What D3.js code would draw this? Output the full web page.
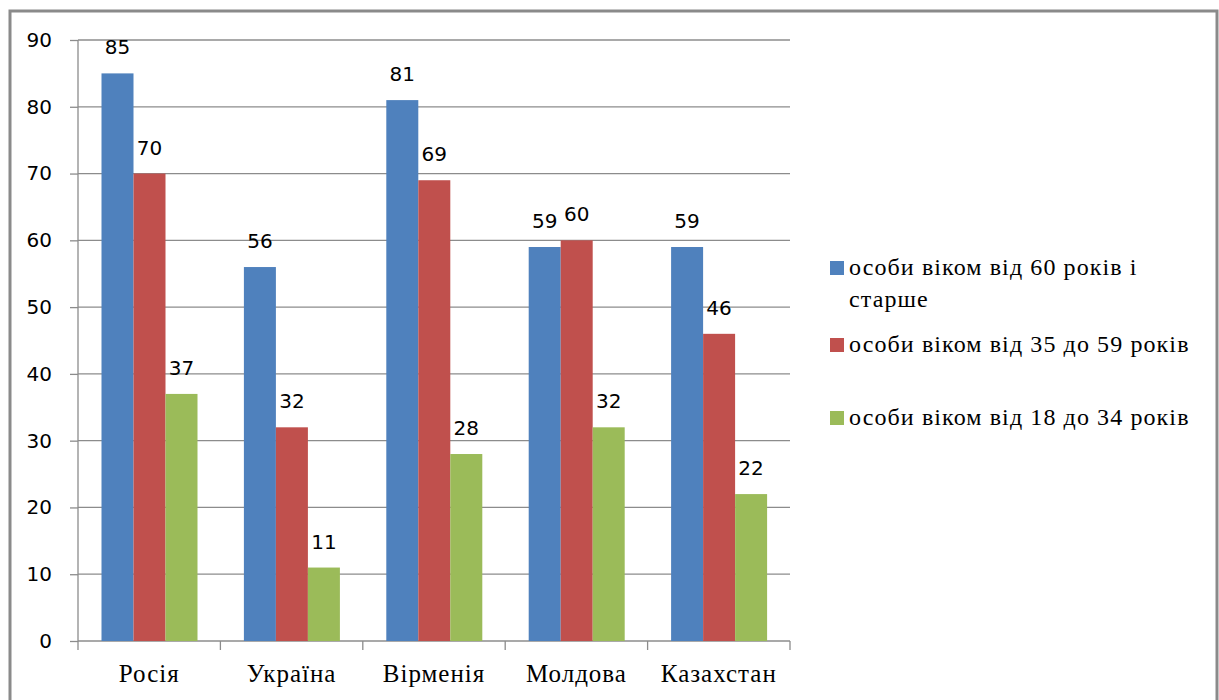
<!DOCTYPE html>
<html>
<head>
<meta charset="utf-8">
<script src="https://cdn.jsdelivr.net/npm/d3@7"></script>
<style>
  body { margin: 0; background: #fff; }
  svg { display: block; }
</style>
</head>
<body>
<svg id="chart" width="1219" height="700"></svg>
<script>
const categories = ["Росія", "Україна", "Вірменія", "Молдова", "Казахстан"];
const seriesNames = [
  "особи віком від 60 років і старше",
  "особи віком від 35 до 59 років",
  "особи віком від 18 до 34 років"
];
const older = [85, 56, 81, 59, 59];
const middle = [70, 32, 69, 60, 46];
const young = [37, 11, 28, 32, 22];
const yTicks = [0, 10, 20, 30, 40, 50, 60, 70, 80, 90];
const colors = ["#4F81BD", "#C0504D", "#9BBB59"];

const seriesValues = [older, middle, young];
const serif = "'Liberation Serif', 'Times New Roman', serif";
const sans = "'DejaVu Sans', sans-serif";

const svg = d3.select("#chart");

// frame
svg.append("rect")
  .attr("x", 10).attr("y", 11)
  .attr("width", 1207).attr("height", 700)
  .attr("fill", "none")
  .attr("stroke", "#8a8a8a")
  .attr("stroke-width", 3);

const x0 = d3.scaleBand().domain(categories).range([78, 790]);
const x1 = d3.scaleBand().domain(d3.range(3)).range([23.5, 119.5]);
const y = d3.scaleLinear().domain([0, 90]).range([641, 40]);

// grid
svg.append("g")
  .selectAll("line")
  .data(yTicks.slice(1))
  .enter()
  .append("line")
  .attr("x1", 78)
  .attr("x2", 790)
  .attr("y1", d => y(d))
  .attr("y2", d => y(d))
  .attr("stroke", "#8c8c8c")
  .attr("stroke-width", 1.3);

// y axis
const yAxis = svg.append("g")
  .attr("transform", "translate(78,0)")
  .call(d3.axisLeft(y).tickValues(yTicks).tickSize(8).tickPadding(18));
yAxis.attr("font-family", sans).attr("font-size", 20);
yAxis.selectAll("line").attr("stroke", "#8c8c8c").attr("stroke-width", 1.3);
yAxis.select(".domain").attr("stroke", "#8c8c8c").attr("stroke-width", 1.3).attr("d", "M0,40V641");
yAxis.selectAll("text").attr("fill", "#000");

// x axis
const xAxis = svg.append("g")
  .attr("transform", "translate(0,641)")
  .call(d3.axisBottom(x0).tickSize(0).tickPadding(0));
xAxis.attr("font-family", serif).attr("font-size", 25);
xAxis.select(".domain").attr("stroke", "#8c8c8c").attr("stroke-width", 1.3).attr("d", "M78,0H790");
xAxis.selectAll(".tick text")
  .attr("y", 41)
  .attr("dy", null)
  .attr("letter-spacing", 1)
  .attr("fill", "#000");
svg.append("g")
  .selectAll("line")
  .data(categories.concat(["end"]))
  .enter()
  .append("line")
  .attr("x1", (d, i) => i < categories.length ? x0(d) : 790)
  .attr("x2", (d, i) => i < categories.length ? x0(d) : 790)
  .attr("y1", 641)
  .attr("y2", 650)
  .attr("stroke", "#8c8c8c")
  .attr("stroke-width", 1.3);

// bars
const groups = svg.append("g")
  .selectAll("g")
  .data(categories)
  .enter()
  .append("g")
  .attr("transform", d => `translate(${x0(d)},0)`);

groups.selectAll("rect")
  .data((d, ci) => seriesValues.map((s, si) => ({ si: si, v: s[ci] })))
  .enter()
  .append("rect")
  .attr("x", d => x1(d.si))
  .attr("width", x1.bandwidth())
  .attr("y", d => y(d.v))
  .attr("height", d => y(0) - y(d.v))
  .attr("fill", d => colors[d.si]);

groups.selectAll("text")
  .data((d, ci) => seriesValues.map((s, si) => ({ si: si, v: s[ci] })))
  .enter()
  .append("text")
  .attr("x", d => x1(d.si) + x1.bandwidth() / 2)
  .attr("y", d => y(d.v) - 19)
  .attr("text-anchor", "middle")
  .attr("font-family", sans)
  .attr("font-size", 20)
  .attr("fill", "#000")
  .text(d => d.v);

// legend
const legendRows = [
  { lines: ["особи віком від 60 років і", "старше"], y: 275 },
  { lines: ["особи віком від 35 до 59 років"], y: 352 },
  { lines: ["особи віком від 18 до 34 років"], y: 425 }
];
const legend = svg.append("g");
legendRows.forEach((row, i) => {
  legend.append("rect")
    .attr("x", 830)
    .attr("y", row.y - 14)
    .attr("width", 14)
    .attr("height", 14)
    .attr("fill", colors[i]);
  const t = legend.append("text")
    .attr("x", 849)
    .attr("y", row.y)
    .attr("font-family", serif)
    .attr("font-size", 24)
    .attr("letter-spacing", 1.1)
    .attr("fill", "#000");
  row.lines.forEach((ln, j) => {
    t.append("tspan").attr("x", 849).attr("dy", j === 0 ? 0 : 32).text(ln);
  });
});
</script>
</body>
</html>
